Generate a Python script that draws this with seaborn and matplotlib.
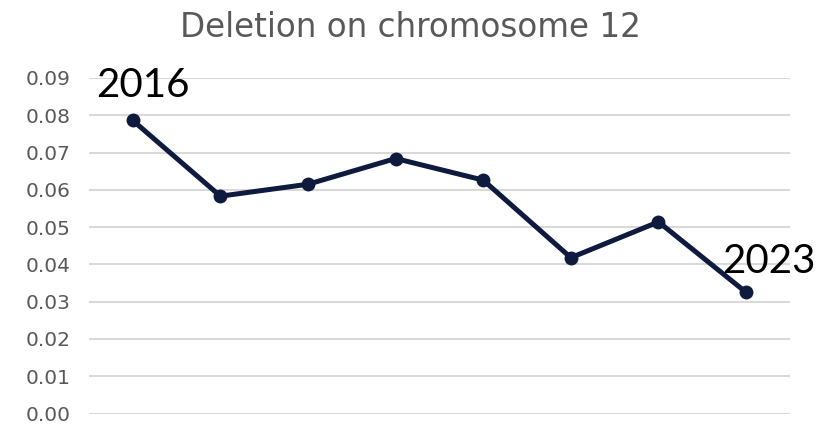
import matplotlib
matplotlib.use("Agg")
import matplotlib.pyplot as plt
import seaborn as sns
import pandas as pd

# Yearly deletion rate on chromosome 12
years = [2016, 2017, 2018, 2019, 2020, 2021, 2022, 2023]
deletion_rate = [0.0786, 0.0583, 0.0615, 0.0684, 0.0626, 0.0418, 0.0514, 0.0325]
y_ticks = [0.00, 0.01, 0.02, 0.03, 0.04, 0.05, 0.06, 0.07, 0.08, 0.09]

df = pd.DataFrame({"pos": range(len(years)), "year": years, "rate": deletion_rate})

sns.set_theme(style="white")
plt.rcParams["font.family"] = ["DejaVu Sans"]

fig = plt.figure(figsize=(8.35, 4.25), dpi=100)
ax = fig.add_axes([0.1066, 0.027, 0.8394, 0.7895])

line_color = "#0E1A3E"
sns.lineplot(data=df, x="pos", y="rate", ax=ax, color=line_color, linewidth=3.6,
             marker="o", markersize=10, markeredgewidth=0, zorder=3)

ax.set_xlim(-0.5, len(years) - 0.5)
ax.set_ylim(0, 0.09)
ax.set_yticks(y_ticks)
ax.set_yticklabels([f"{t:.2f}" for t in y_ticks], color="#595959", fontsize=14.5)
ax.set_xticks([])
ax.set_xlabel("")
ax.set_ylabel("")
ax.tick_params(axis="y", length=0, pad=13)
ax.grid(axis="y", color="#d9d9d9", linewidth=1.5)
ax.set_axisbelow(True)
for s in ax.spines.values():
    s.set_visible(False)

# Label the first and last years
label_font = dict(fontsize=29, color="black", family=["Lato", "DejaVu Sans"])
first, last = df.iloc[0], df.iloc[-1]
ax.annotate(str(int(first["year"])), (first["pos"], first["rate"]),
            xytext=(7, 12), textcoords="offset points", ha="center", va="bottom",
            **label_font)
ax.annotate(str(int(last["year"])), (last["pos"], last["rate"]),
            xytext=(16, 9), textcoords="offset points", ha="center", va="bottom",
            **label_font)

fig.text(0.491, 0.935, "Deletion on chromosome 12", ha="center", va="center",
         fontsize=23.5, color="#595959", family=["DejaVu Sans"])

fig.savefig("out.png", dpi=100, facecolor="white")
